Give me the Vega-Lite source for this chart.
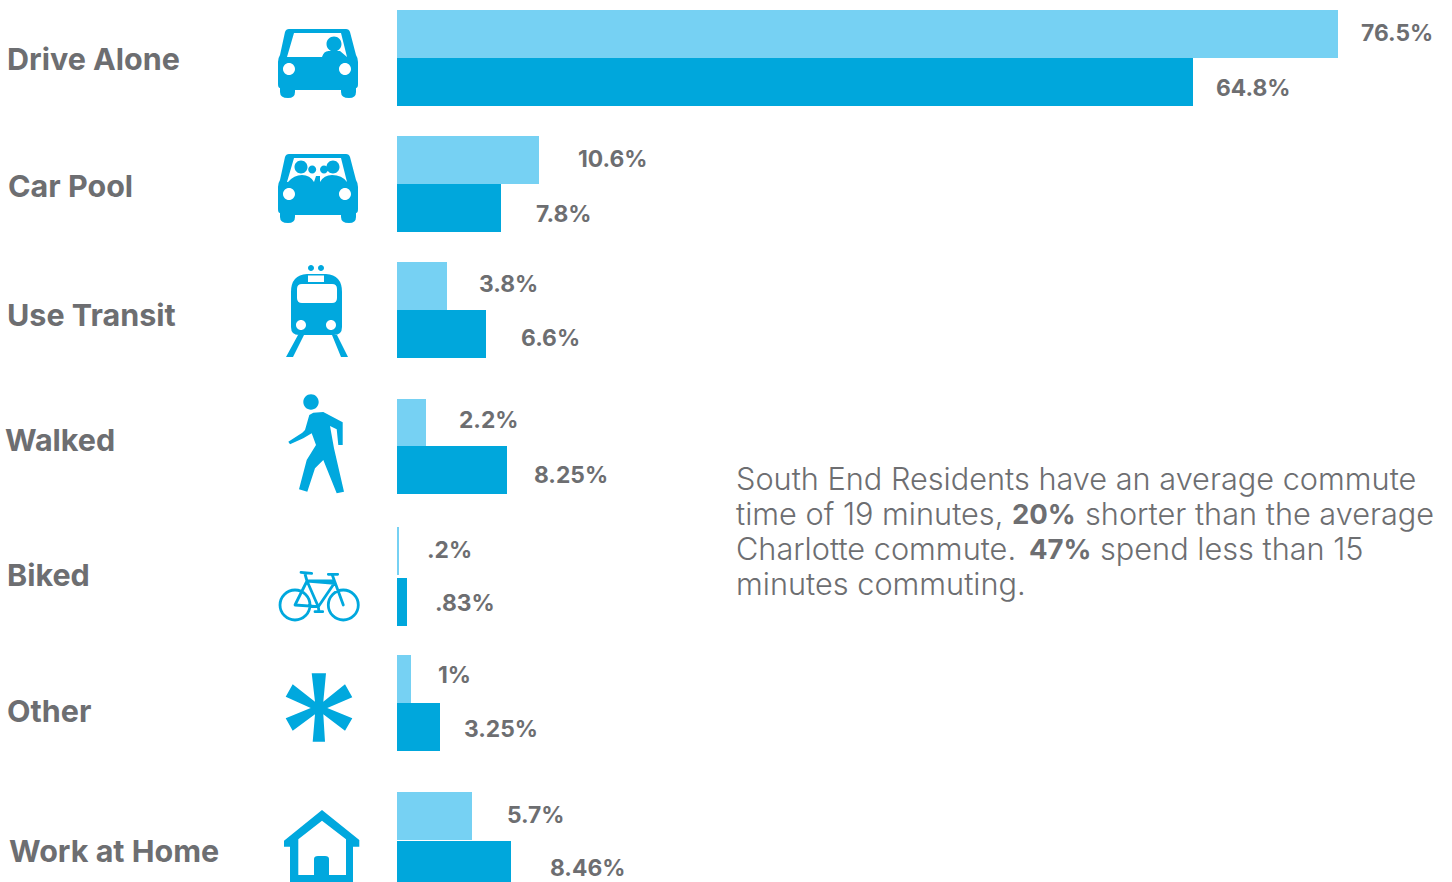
{
"$schema":"https://vega.github.io/schema/vega-lite/v6.json",
"width":1452,"height":882,"padding":0,"autosize":{"type":"none"},"background":"#ffffff",
"config":{"view":{"stroke":null},"axis":{"domain":false,"ticks":false,"labels":false,"grid":false,"title":null}},
"datasets":{
"shares":[
{"mode":"Drive Alone","series":"South End","slot":1,"share":76.5,"label":"76.5%"},
{"mode":"Drive Alone","series":"Charlotte","slot":2,"share":64.8,"label":"64.8%"},
{"mode":"Car Pool","series":"South End","slot":3,"share":10.6,"label":"10.6%"},
{"mode":"Car Pool","series":"Charlotte","slot":4,"share":7.8,"label":"7.8%"},
{"mode":"Use Transit","series":"South End","slot":5,"share":3.8,"label":"3.8%"},
{"mode":"Use Transit","series":"Charlotte","slot":6,"share":6.6,"label":"6.6%"},
{"mode":"Walked","series":"South End","slot":7,"share":2.2,"label":"2.2%"},
{"mode":"Walked","series":"Charlotte","slot":8,"share":8.25,"label":"8.25%"},
{"mode":"Biked","series":"South End","slot":9,"share":0.2,"label":".2%"},
{"mode":"Biked","series":"Charlotte","slot":10,"share":0.83,"label":".83%"},
{"mode":"Other","series":"South End","slot":11,"share":1,"label":"1%"},
{"mode":"Other","series":"Charlotte","slot":12,"share":3.25,"label":"3.25%"},
{"mode":"Work at Home","series":"South End","slot":13,"share":5.7,"label":"5.7%"},
{"mode":"Work at Home","series":"Charlotte","slot":14,"share":8.46,"label":"8.46%"}
],
"modes":[
{"mode":"Drive Alone","rank":1},{"mode":"Car Pool","rank":2},{"mode":"Use Transit","rank":3},{"mode":"Walked","rank":4},{"mode":"Biked","rank":5},{"mode":"Other","rank":6},{"mode":"Work at Home","rank":7}
],
"note":[
{"seg":1,"line":1,"weight":"normal","text":"South End Residents have an average commute"},
{"seg":2,"line":2,"weight":"normal","text":"time of 19 minutes,"},
{"seg":3,"line":2,"weight":"bold","text":"20%"},
{"seg":4,"line":2,"weight":"normal","text":"shorter than the average"},
{"seg":5,"line":3,"weight":"normal","text":"Charlotte commute."},
{"seg":6,"line":3,"weight":"bold","text":"47%"},
{"seg":7,"line":3,"weight":"normal","text":"spend less than 15"},
{"seg":8,"line":4,"weight":"normal","text":"minutes commuting."}
]
},
"resolve":{"scale":{"x":"independent","y":"independent","color":"independent","shape":"independent"}},
"layer":[
{"data":{"name":"shares"},
 "mark":{"type":"bar","orient":"horizontal","height":48},
 "encoding":{
  "x":{"field":"share","type":"quantitative","axis":null,"scale":{"zero":false,"nice":false,"domain":[0,0.2,0.83,1,2.2,3.25,3.8,5.7,6.6,7.8,8.25,8.46,10.6,64.8,76.5],"range":[397,399,407,411,426,440,447,472,486,501,507,511,539,1193,1338]}},
  "y":{"field":"slot","type":"quantitative","axis":null,"scale":{"zero":false,"nice":false,"padding":0,"domain":[1,2,3,4,5,6,7,8,9,10,11,12,13,14],"range":[34,82,160,208,286,334,423,470,551,602,679,727,816,865]}},
  "color":{"field":"series","type":"nominal","legend":null,"scale":{"domain":["South End","Charlotte"],"range":["#76D1F3","#00A7DC"]}}
 }},
{"data":{"name":"shares"},
 "mark":{"type":"text","font":"Inter","fontWeight":700,"fontSize":22.8,"align":"left","baseline":"middle","color":"#6D6E71"},
 "encoding":{
  "x":{"field":"share","type":"quantitative","axis":null,"scale":{"zero":false,"nice":false,"domain":[0.2,0.83,1,2.2,3.25,3.8,5.7,6.6,7.8,8.25,8.46,10.6,64.8,76.5],"range":[427,435,438,459,464,479,507,521,536,534,550,578,1216,1361]}},
  "y":{"field":"slot","type":"quantitative","axis":null,"scale":{"zero":false,"nice":false,"domain":[1,2,3,4,5,6,7,8,9,10,11,12,13,14],"range":[34,89,160,215,285,339,421,476,551,604,676,730,816,869]}},
  "text":{"field":"label"}
 }},
{"data":{"name":"modes"},
 "mark":{"type":"text","font":"Inter","fontWeight":700,"fontSize":30.5,"align":"left","baseline":"middle","color":"#6D6E71"},
 "encoding":{
  "x":{"field":"rank","type":"quantitative","axis":null,"scale":{"zero":false,"nice":false,"domain":[1,2,3,4,5,6,7],"range":[7,8,7,5,7,7,9]}},
  "y":{"field":"rank","type":"quantitative","axis":null,"scale":{"zero":false,"nice":false,"domain":[1,2,3,4,5,6,7],"range":[61,188,317,442,577,713,853]}},
  "text":{"field":"mode"}
 }},
{"data":{"name":"modes"},
 "transform":[{"filter":"datum.mode !== 'Biked'"}],
 "mark":{"type":"point","filled":true,"size":4,"opacity":1,"color":"#00A8DE","strokeWidth":0},
 "encoding":{
  "x":{"field":"rank","type":"quantitative","axis":null,"scale":{"zero":false,"nice":false,"domain":[1,2,3,4,6,7],"range":[318,318,317,316,319,322]}},
  "y":{"field":"rank","type":"quantitative","axis":null,"scale":{"zero":false,"nice":false,"domain":[1,2,3,4,6,7],"range":[64,189,309,444,708,846]}},
  "shape":{"field":"mode","type":"nominal","legend":null,"scale":{
   "domain":["Drive Alone","Car Pool","Use Transit","Walked","Other","Work at Home"],
   "range":[
   "M-29,-35 L28,-35 Q31,-35 32,-32 L38,-9 Q40,-6 40,-2 L40,20 Q40,24 38,24 L38,28 Q38,34 31,34 Q23,34 23,28 L23,26 L-23,26 L-23,28 Q-23,34 -30,34 Q-38,34 -38,28 L-38,24 Q-40,24 -40,20 L-40,-2 Q-40,-6 -38,-9 L-33,-32 Q-32,-35 -29,-35 Z M-24,-31 L-31,-7 L29,-7 L23,-31 Z M8.5,-20 a7.5,7.5 0 1 1 15,0 a7.5,7.5 0 1 1 -15,0 Z M4,-7 Q6,-14 12,-13 L22,-13 L29,-7 Z M-35,5 a6,6 0 1 0 12,0 a6,6 0 1 0 -12,0 Z M21,5 a6,6 0 1 0 12,0 a6,6 0 1 0 -12,0 Z",
   "M-29,-35 L28,-35 Q31,-35 32,-32 L38,-9 Q40,-6 40,-2 L40,20 Q40,24 38,24 L38,28 Q38,34 31,34 Q23,34 23,28 L23,26 L-23,26 L-23,28 Q-23,34 -30,34 Q-38,34 -38,28 L-38,24 Q-40,24 -40,20 L-40,-2 Q-40,-6 -38,-9 L-33,-32 Q-32,-35 -29,-35 Z M-24,-31 L-31,-7 L29,-7 L23,-31 Z M-23.5,-22 a6.5,6.5 0 1 1 13,0 a6.5,6.5 0 1 1 -13,0 Z M8.5,-22 a6.5,6.5 0 1 1 13,0 a6.5,6.5 0 1 1 -13,0 Z M-9.8,-19.5 a4,4 0 1 1 8,0 a4,4 0 1 1 -8,0 Z M2,-19.5 a4,4 0 1 1 8,0 a4,4 0 1 1 -8,0 Z M-30,-7 Q-24,-14 -16,-14 Q-8,-14 -4,-7 Z M2,-7 Q6,-14 14,-14 Q24,-14 29,-7 Z M-4,-7 L-2,-13 L2,-13 L2,-7 Z M-35,5 a6,6 0 1 0 12,0 a6,6 0 1 0 -12,0 Z M21,5 a6,6 0 1 0 12,0 a6,6 0 1 0 -12,0 Z",
   "M-10,-35 L9,-35 Q25,-34 25,-17 L25,18 Q25,26 17,26 L-18,26 Q-26,26 -26,18 L-26,-17 Q-26,-34 -10,-35 Z M-9,-33.5 L-9,-27 L7,-27 L7,-33.5 Z M-20,-20 L-20,-11 Q-20,-6 -15,-6 L15,-6 Q20,-6 20,-11 L20,-20 Q20,-25 15,-25 L-15,-25 Q-20,-25 -20,-20 Z M-21,16 a5,5 0 1 0 10,0 a5,5 0 1 0 -10,0 Z M9,16 a5,5 0 1 0 10,0 a5,5 0 1 0 -10,0 Z M-9,-41 a3,3 0 1 1 6,0 a3,3 0 1 1 -6,0 Z M1,-41 a3,3 0 1 1 6,0 a3,3 0 1 1 -6,0 Z M-19,26 L-13,26 L-24,48 L-31,48 Z M15,26 L20,26 L31,48 L24,48 Z",
   "M-12.7,-42 a7.7,7.7 0 1 1 15.4,0 a7.7,7.7 0 1 1 -15.4,0 Z M-2.7,-31.3 L7.3,-32 L26.7,-21.7 L26.7,1 L22.3,1 L20.7,-14.7 L14,-18 L18,4.3 L28,47.7 L20.7,49.3 L7.3,16 L-1,24.3 L-8.7,47.7 L-17,45.3 L-9.3,16 L0,1 L-4.3,-10.7 L-12.7,-5.7 L-26,0.3 L-27.7,-2.3 L-13.7,-11.3 L-11,-14 L-6.7,-29 Z",
   "M-7.3,-34.7 L7,-34.7 L4.3,-6.3 L26,-23.7 L33.3,-10.7 L8.3,0 L33.3,10.3 L26,22.7 L4.3,6.3 L6,33.7 L-6.3,33.7 L-4,6.3 L-26.3,22.7 L-33.3,10.3 L-8.3,0 L-33.3,-11.3 L-26.3,-23.7 L-4,-6.3 Z",
   "M0,-36 L37.3,-6 L37.3,0.7 L31,0.7 L31,36 L-32,36 L-32,0.7 L-38,0.7 L-38,-5.3 Z M0,-25.3 L-23.7,-6.7 L-23.7,29 L-8,29 L-8,13 Q-8,10 -4,10 L3,10 Q7,10 7,13 L7,29 L24,29 L24,-6.7 Z"
   ]}}
 }},
{"data":{"name":"modes"},
 "transform":[{"filter":"datum.mode === 'Biked'"}],
 "mark":{"type":"point","filled":false,"size":4,"opacity":1,"color":"#00A8DE","strokeWidth":2.8,"strokeJoin":"round","strokeCap":"round"},
 "encoding":{
  "x":{"field":"rank","type":"quantitative","axis":null,"scale":{"zero":false,"nice":false,"domain":[4,6],"range":[319,319]}},
  "y":{"field":"rank","type":"quantitative","axis":null,"scale":{"zero":false,"nice":false,"domain":[4,6],"range":[596,596]}},
  "shape":{"field":"mode","type":"nominal","legend":null,"scale":{"domain":["Biked"],"range":[
   "M-39,9 a15,15 0 1 1 30,0 a15,15 0 1 1 -30,0 Z M9.3,9 a15,15 0 1 1 30,0 a15,15 0 1 1 -30,0 Z M-24,9 L-0.7,10.7 L15.3,-12.7 L-12,-15 Z M-24,9 L-12,-15 L-0.7,10.7 M-12,-15 L-14,-22 M-18,-23.7 L-7.3,-22.7 M14,-15 L-12,-15 M9.3,-21.7 L18.7,-21.7 M13.3,-21 L24.3,9 M-4,15.7 L3.7,15.7 M-0.7,10.7 L0,15.7"
  ]}}
 }},
{"data":{"name":"note"},
 "transform":[{"filter":"datum.weight === 'normal'"}],
 "mark":{"type":"text","font":"Inter","fontWeight":300,"fontSize":30.7,"align":"left","baseline":"middle","color":"#6D6E71"},
 "encoding":{
  "x":{"field":"seg","type":"quantitative","axis":null,"scale":{"zero":false,"nice":false,"domain":[1,2,4,5,7,8],"range":[736,736,1085,736,1100,736]}},
  "y":{"field":"line","type":"quantitative","axis":null,"scale":{"zero":false,"nice":false,"domain":[1,4],"range":[481,586]}},
  "text":{"field":"text"}
 }},
{"data":{"name":"note"},
 "transform":[{"filter":"datum.weight === 'bold'"}],
 "mark":{"type":"text","font":"Inter","fontWeight":700,"fontSize":27.5,"align":"left","baseline":"middle","color":"#6D6E71"},
 "encoding":{
  "x":{"field":"seg","type":"quantitative","axis":null,"scale":{"zero":false,"nice":false,"domain":[3,6],"range":[1012,1029]}},
  "y":{"field":"line","type":"quantitative","axis":null,"scale":{"zero":false,"nice":false,"domain":[1,4],"range":[481,586]}},
  "text":{"field":"text"}
 }}
]
}
